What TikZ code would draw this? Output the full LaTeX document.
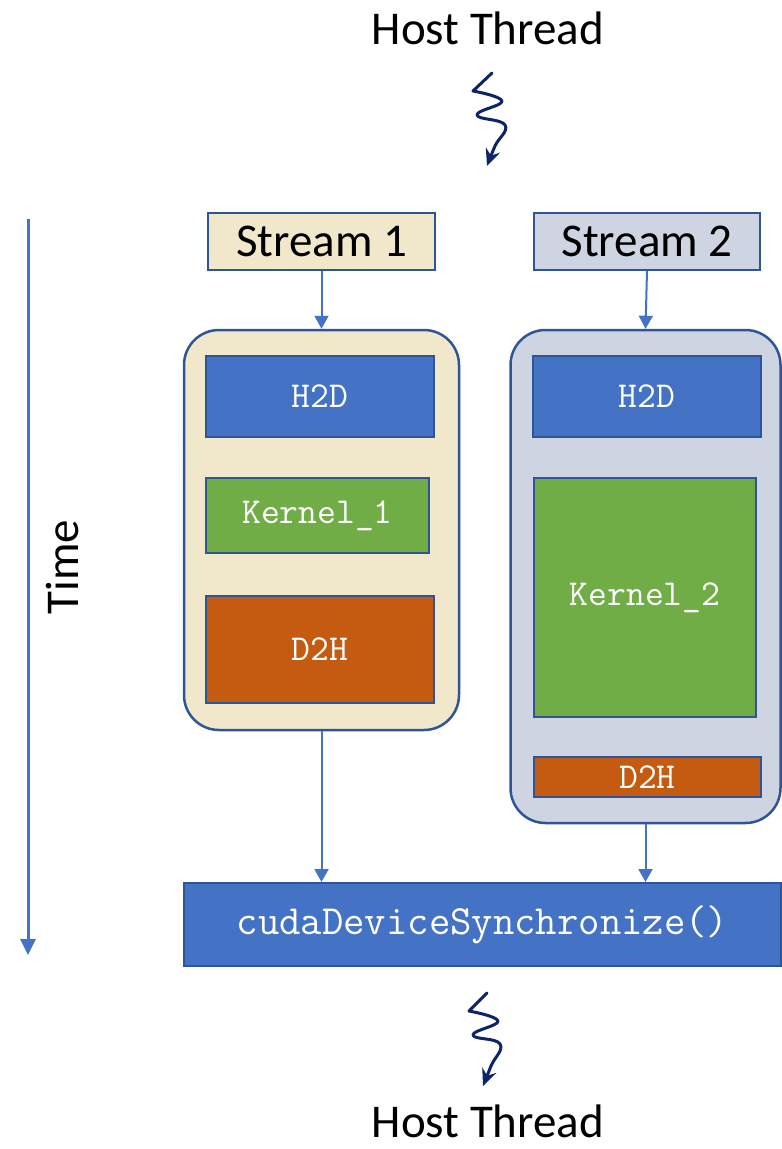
\documentclass[tikz,border=0pt]{standalone}
\usepackage{fontspec}
\setmainfont{Carlito}
\usetikzlibrary{arrows.meta}

\definecolor{cudablue}{HTML}{4472C4}
\definecolor{edgeblue}{HTML}{2F5597}
\definecolor{kernelgreen}{HTML}{70AD47}
\definecolor{copyorange}{HTML}{C55A11}
\definecolor{sandfill}{HTML}{F1E8CC}
\definecolor{slatefill}{HTML}{CED4E2}
\definecolor{navy}{HTML}{0C2566}

\tikzset{
  label text/.style={font=\fontsize{47}{56}\selectfont},
  stream head/.style={draw=edgeblue,line width=2pt,inner sep=0pt,label text},
  lane/.style={draw=edgeblue,line width=2.5pt,rounded corners=35pt,inner sep=0pt},
  op/.style={draw=edgeblue,line width=2pt,inner sep=0pt,text=white,
    font=\ttfamily\fontsize{36.5}{42}\selectfont},
  flow/.style={cudablue,line width=2pt,-{Triangle[width=14pt,length=13pt]}},
  wiggle/.style={navy,line width=3pt,line cap=round,line join=round,
    -{Stealth[width=15pt,length=17pt,inset=6pt]}}
}

\begin{document}
\begin{tikzpicture}[x=1pt,y=-1pt]
  \useasboundingbox (0,0) rectangle (782,1149);

  % host thread at the top
  \node[label text,anchor=base] (host top) at (488,44) {Host Thread};
  \coordinate (wiggle top) at (492,73);
  \draw[wiggle] (wiggle top) -- plot[smooth,tension=.75] coordinates
    {(473,91) (502,101) (477,115) (505,125) (495,146) (487,166)};

  % time axis
  \coordinate (time start) at (28,219);
  \coordinate (time end) at (28,955);
  \draw[cudablue,line width=3pt,-{Triangle[width=15pt,length=16pt]}] (time start) -- (time end);
  \node[label text,rotate=90] (time) at (62,567) {Time};

  % the two streams
  \node[stream head,fill=sandfill,minimum width=227pt,minimum height=57pt] (stream1) at (321.5,241.5) {Stream 1};
  \node[stream head,fill=slatefill,minimum width=226pt,minimum height=57pt] (stream2) at (647,241.5) {Stream 2};

  \node[lane,fill=sandfill,minimum width=275pt,minimum height=400pt] (lane1) at (321.5,530) {};
  \node[lane,fill=slatefill,minimum width=270pt,minimum height=493pt] (lane2) at (645.5,576.5) {};

  \draw[flow] (stream1.south) -- (lane1.north);
  \draw[flow] (stream2.south) -- (lane2.north);

  \node[op,fill=cudablue,minimum width=228pt,minimum height=81pt] (h2d1) at (320,396.5) {H2D};
  \node[op,fill=kernelgreen,minimum width=223pt,minimum height=75pt] (kernel1) at (317.5,515.5) {Kernel\_1};
  \node[op,fill=copyorange,minimum width=228pt,minimum height=107pt] (d2h1) at (320,649.5) {D2H};

  \node[op,fill=cudablue,minimum width=228pt,minimum height=81pt] (h2d2) at (647,396.5) {H2D};
  \node[op,fill=kernelgreen,minimum width=222pt,minimum height=239pt] (kernel2) at (645,597.5) {Kernel\_2};
  \node[op,fill=copyorange,minimum width=227pt,minimum height=40pt] (d2h2) at (647.5,777) {D2H};

  % synchronisation
  \node[op,fill=cudablue,minimum width=597pt,minimum height=83pt,
    font=\ttfamily\fontsize{41.5}{48}\selectfont] (sync) at (482.5,924.5) {cudaDeviceSynchronize()};

  \draw[flow] (lane1.south) -- (lane1.south |- sync.north);
  \draw[flow] (lane2.south) -- (lane2.south |- sync.north);

  % host thread at the bottom
  \coordinate (wiggle bottom) at (487,993);
  \draw[wiggle] (wiggle bottom) -- plot[smooth,tension=.75] coordinates
    {(469,1011) (498,1021) (473,1035) (500,1044) (491,1066) (483,1086)};
  \node[label text,anchor=base] (host bottom) at (488,1137) {Host Thread};
\end{tikzpicture}
\end{document}
